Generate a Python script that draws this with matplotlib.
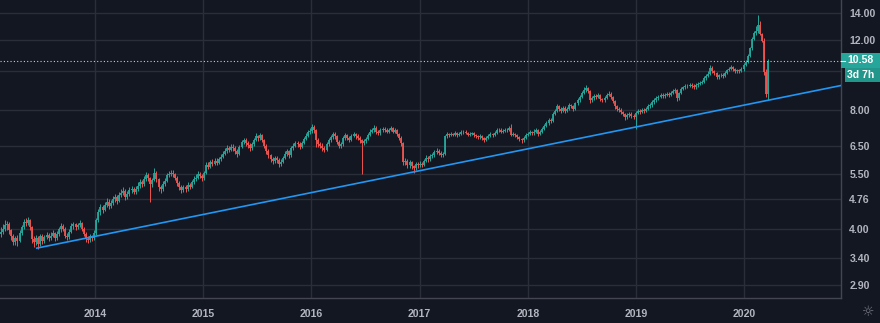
import matplotlib
matplotlib.use('Agg')
import matplotlib.pyplot as plt
import matplotlib.dates as mdates
from matplotlib.patches import Rectangle
from matplotlib.lines import Line2D
from matplotlib.transforms import IdentityTransform
import pandas as pd

# weekly candles, one list per calendar year
close_2013 = [3.95, 4.00, 4.10, 4.12, 3.98, 3.85, 3.72, 3.80, 3.75, 3.92, 4.05, 4.18,
              4.15, 4.22, 4.05, 3.78, 3.72, 3.80, 3.68, 3.85, 3.74, 3.82, 3.88, 3.80,
              3.86, 3.92, 3.80, 3.90, 4.00, 4.08, 4.02, 3.86, 3.82, 3.95, 4.08, 4.12,
              4.05, 4.10, 4.15, 4.02, 3.90, 3.78, 3.76, 3.84, 3.80, 3.92]
high_2013 = [4.05, 4.12, 4.22, 4.20, 4.18, 4.02, 3.90, 3.86, 3.88, 3.98, 4.10, 4.26,
             4.28, 4.30, 4.25, 4.08, 3.85, 3.88, 3.84, 3.90, 3.90, 3.88, 3.95, 3.92,
             3.93, 3.98, 3.95, 3.96, 4.06, 4.14, 4.12, 4.05, 3.92, 4.00, 4.14, 4.18,
             4.16, 4.16, 4.22, 4.18, 4.06, 3.94, 3.84, 3.90, 3.88, 3.98]
low_2013 = [3.82, 3.90, 3.96, 3.98, 3.90, 3.76, 3.66, 3.66, 3.64, 3.72, 3.88, 4.00,
            4.08, 4.10, 3.98, 3.70, 3.62, 3.66, 3.57, 3.64, 3.68, 3.70, 3.78, 3.74,
            3.76, 3.82, 3.74, 3.76, 3.86, 3.95, 3.96, 3.80, 3.76, 3.78, 3.92, 4.02,
            3.98, 4.00, 4.05, 3.96, 3.84, 3.72, 3.70, 3.72, 3.74, 3.77]

close_2014 = [4.22, 4.42, 4.55, 4.48, 4.62, 4.70, 4.58, 4.66, 4.76, 4.82, 4.72, 4.88,
              4.95, 5.00, 4.82, 4.92, 5.02, 5.05, 4.98, 5.05, 5.15, 5.25, 5.20, 5.35,
              5.48, 5.38, 5.20, 5.32, 5.55, 5.35, 5.10, 5.05, 5.20, 5.30, 5.48, 5.52,
              5.55, 5.50, 5.40, 5.22, 5.10, 5.02, 5.10, 5.05, 5.18, 5.12, 5.25, 5.35,
              5.40, 5.52, 5.45, 5.38]
high_2014 = [4.28, 4.50, 4.64, 4.62, 4.70, 4.80, 4.76, 4.74, 4.85, 4.92, 4.88, 4.96,
             5.06, 5.10, 5.05, 5.00, 5.10, 5.14, 5.12, 5.14, 5.25, 5.36, 5.34, 5.45,
             5.58, 5.55, 5.42, 5.40, 5.72, 5.60, 5.40, 5.18, 5.28, 5.40, 5.56, 5.62,
             5.65, 5.64, 5.56, 5.45, 5.28, 5.16, 5.18, 5.16, 5.26, 5.24, 5.32, 5.44,
             5.50, 5.60, 5.58, 5.52]
low_2014 = [3.88, 4.18, 4.36, 4.40, 4.44, 4.55, 4.50, 4.52, 4.60, 4.70, 4.64, 4.68,
            4.82, 4.88, 4.74, 4.76, 4.86, 4.95, 4.90, 4.92, 5.00, 5.08, 5.12, 5.14,
            5.30, 5.28, 4.70, 5.12, 5.28, 5.25, 5.00, 4.95, 5.00, 5.15, 5.26, 5.42,
            5.45, 5.42, 5.32, 5.14, 5.02, 4.94, 4.96, 4.98, 5.00, 5.05, 5.08, 5.20,
            5.30, 5.35, 5.38, 5.30]

close_2015 = [5.55, 5.80, 5.75, 5.90, 5.85, 5.95, 5.88, 6.02, 6.10, 6.20, 6.30, 6.42,
              6.35, 6.45, 6.40, 6.30, 6.20, 6.45, 6.62, 6.70, 6.60, 6.52, 6.40, 6.55,
              6.72, 6.85, 6.78, 6.90, 6.72, 6.50, 6.30, 6.15, 6.02, 5.95, 6.05, 5.98,
              5.85, 5.92, 6.05, 6.20, 6.28, 6.15, 6.40, 6.50, 6.58, 6.55, 6.45, 6.60,
              6.75, 6.88, 7.02, 7.08]
high_2015 = [5.62, 5.90, 5.92, 5.98, 6.00, 6.06, 6.04, 6.10, 6.20, 6.30, 6.40, 6.52,
             6.50, 6.56, 6.55, 6.48, 6.36, 6.52, 6.72, 6.80, 6.78, 6.66, 6.58, 6.62,
             6.80, 7.00, 6.92, 7.00, 6.95, 6.76, 6.55, 6.36, 6.20, 6.10, 6.12, 6.12,
             6.04, 6.00, 6.12, 6.28, 6.38, 6.34, 6.48, 6.60, 6.68, 6.68, 6.62, 6.68,
             6.84, 6.98, 7.12, 7.20]
low_2015 = [5.32, 5.50, 5.66, 5.70, 5.76, 5.80, 5.80, 5.84, 5.96, 6.04, 6.14, 6.24,
            6.26, 6.28, 6.30, 6.20, 6.10, 6.15, 6.40, 6.55, 6.50, 6.42, 6.30, 6.34,
            6.50, 6.66, 6.68, 6.72, 6.62, 6.40, 6.20, 6.05, 5.92, 5.85, 5.88, 5.88,
            5.75, 5.78, 5.88, 6.00, 6.12, 6.06, 6.10, 6.34, 6.44, 6.46, 6.36, 6.40,
            6.54, 6.70, 6.82, 6.95]

close_2016 = [7.25, 7.10, 6.70, 6.55, 6.50, 6.40, 6.35, 6.55, 6.70, 6.82, 6.95, 6.85,
              6.65, 6.50, 6.55, 6.78, 6.90, 6.80, 6.72, 6.88, 6.95, 6.85, 6.80, 6.70,
              6.60, 6.68, 6.75, 6.90, 7.05, 7.10, 7.20, 7.05, 6.98, 7.10, 7.15, 7.10,
              7.05, 7.12, 7.18, 7.05, 7.10, 6.95, 6.80, 6.60, 5.90, 5.95, 5.80, 5.90,
              5.78, 5.70, 5.85, 5.80]
high_2016 = [7.38, 7.32, 7.15, 6.78, 6.62, 6.58, 6.48, 6.62, 6.80, 6.92, 7.05, 7.02,
             6.90, 6.70, 6.64, 6.86, 7.00, 6.96, 6.86, 6.96, 7.05, 7.00, 6.94, 6.86,
             6.76, 6.76, 6.84, 6.98, 7.14, 7.20, 7.30, 7.26, 7.12, 7.18, 7.24, 7.22,
             7.18, 7.20, 7.28, 7.24, 7.18, 7.15, 7.00, 6.85, 6.65, 6.05, 6.00, 5.98,
             5.95, 5.82, 5.92, 5.92]
low_2016 = [7.00, 7.00, 6.45, 6.45, 6.40, 6.30, 6.25, 6.30, 6.50, 6.64, 6.76, 6.76,
            6.55, 6.40, 6.42, 6.50, 6.72, 6.70, 6.62, 6.66, 6.82, 6.76, 6.72, 6.60,
            5.52, 6.52, 6.60, 6.70, 6.85, 6.98, 7.04, 6.96, 6.90, 6.92, 7.04, 7.02,
            6.98, 7.00, 7.06, 6.98, 6.98, 6.88, 6.72, 6.50, 5.82, 5.80, 5.72, 5.72,
            5.68, 5.55, 5.64, 5.72]

close_2017 = [5.85, 5.82, 5.95, 6.05, 6.00, 6.12, 6.15, 6.25, 6.30, 6.22, 6.15, 6.18,
              6.85, 6.95, 6.90, 6.95, 6.92, 6.98, 6.90, 6.95, 7.02, 7.05, 7.00, 6.92,
              6.95, 6.98, 6.90, 6.85, 6.82, 6.88, 6.80, 6.72, 6.78, 6.88, 6.95, 6.90,
              7.00, 7.10, 7.12, 7.05, 7.08, 7.12, 7.10, 7.18, 6.92, 6.95, 6.90, 6.82,
              6.75, 6.70, 6.78, 6.92]
high_2017 = [5.95, 5.92, 6.02, 6.14, 6.12, 6.20, 6.24, 6.34, 6.40, 6.36, 6.28, 6.26,
             6.92, 7.02, 7.00, 7.02, 7.00, 7.06, 7.04, 7.02, 7.10, 7.12, 7.10, 7.04,
             7.02, 7.05, 7.02, 6.95, 6.92, 6.95, 6.92, 6.84, 6.86, 6.95, 7.02, 7.00,
             7.08, 7.18, 7.20, 7.18, 7.16, 7.20, 7.18, 7.26, 7.38, 7.04, 7.00, 6.94,
             6.88, 6.80, 6.86, 7.00]
low_2017 = [5.74, 5.74, 5.78, 5.90, 5.92, 5.95, 6.05, 6.10, 6.18, 6.14, 6.08, 6.08,
            6.14, 6.80, 6.84, 6.86, 6.86, 6.88, 6.84, 6.85, 6.90, 6.96, 6.94, 6.86,
            6.86, 6.90, 6.84, 6.78, 6.76, 6.76, 6.72, 6.64, 6.66, 6.74, 6.84, 6.84,
            6.86, 6.96, 7.04, 6.98, 7.00, 7.02, 7.04, 7.06, 6.86, 6.86, 6.82, 6.74,
            6.68, 6.60, 6.64, 6.74]

close_2018 = [6.95, 7.02, 6.98, 7.05, 7.10, 6.95, 7.05, 7.15, 7.28, 7.40, 7.55, 7.48,
              7.80, 7.95, 8.15, 8.05, 7.95, 8.10, 7.95, 8.05, 8.20, 8.15, 8.05, 8.30,
              8.45, 8.60, 8.80, 8.95, 9.05, 8.90, 8.45, 8.55, 8.65, 8.60, 8.70, 8.50,
              8.45, 8.55, 8.70, 8.78, 8.62, 8.40, 8.15, 8.05, 8.00, 7.90, 7.80, 7.65,
              7.75, 7.82, 7.72, 7.68]
high_2018 = [7.04, 7.10, 7.08, 7.14, 7.20, 7.16, 7.12, 7.24, 7.36, 7.50, 7.64, 7.62,
             7.90, 8.05, 8.25, 8.22, 8.12, 8.18, 8.16, 8.14, 8.30, 8.28, 8.22, 8.38,
             8.55, 8.70, 8.92, 9.10, 9.25, 9.12, 8.95, 8.64, 8.75, 8.74, 8.80, 8.76,
             8.58, 8.64, 8.80, 8.90, 8.84, 8.66, 8.45, 8.22, 8.12, 8.06, 7.96, 7.85,
             7.84, 7.90, 7.88, 7.80]
low_2018 = [6.86, 6.90, 6.90, 6.92, 7.00, 6.88, 6.90, 7.00, 7.10, 7.22, 7.34, 7.40,
            7.44, 7.74, 7.90, 7.96, 7.86, 7.90, 7.86, 7.88, 8.00, 8.06, 7.96, 8.00,
            8.24, 8.38, 8.55, 8.74, 8.88, 8.80, 8.30, 8.38, 8.48, 8.50, 8.54, 8.42,
            8.36, 8.38, 8.50, 8.64, 8.52, 8.30, 8.05, 7.95, 7.90, 7.80, 7.70, 7.52,
            7.58, 7.68, 7.62, 7.58]

close_2019 = [7.85, 7.95, 7.90, 8.00, 7.95, 8.05, 8.15, 8.20, 8.35, 8.45, 8.55, 8.62,
              8.70, 8.65, 8.72, 8.78, 8.70, 8.82, 8.90, 8.95, 8.55, 8.80, 9.00, 9.10,
              9.15, 9.20, 9.25, 9.18, 9.10, 9.22, 9.30, 9.35, 9.40, 9.60, 9.72, 9.85,
              10.20, 10.00, 9.90, 9.65, 9.75, 9.80, 9.70, 9.90, 10.05, 10.15, 10.25, 10.10,
              9.98, 10.05, 10.00, 10.10]
high_2019 = [7.94, 8.04, 8.02, 8.10, 8.06, 8.14, 8.25, 8.30, 8.45, 8.55, 8.65, 8.72,
             8.80, 8.80, 8.82, 8.88, 8.86, 8.92, 9.00, 9.05, 9.00, 8.88, 9.10, 9.20,
             9.26, 9.30, 9.36, 9.32, 9.26, 9.32, 9.40, 9.46, 9.52, 9.70, 9.84, 9.98,
             10.35, 10.28, 10.08, 9.95, 9.86, 9.90, 9.88, 10.00, 10.15, 10.26, 10.36, 10.32,
             10.16, 10.14, 10.12, 10.22]
low_2019 = [7.15, 7.78, 7.82, 7.84, 7.86, 7.88, 8.00, 8.08, 8.14, 8.28, 8.38, 8.48,
            8.55, 8.56, 8.58, 8.64, 8.60, 8.64, 8.76, 8.82, 8.40, 8.48, 8.74, 8.94,
            9.02, 9.06, 9.12, 9.08, 9.00, 9.04, 9.14, 9.22, 9.28, 9.34, 9.52, 9.65,
            9.80, 9.90, 9.80, 9.55, 9.58, 9.66, 9.60, 9.64, 9.84, 9.98, 10.08, 10.00,
            9.88, 9.90, 9.90, 9.94]

close_2020 = [10.35, 10.55, 10.90, 11.40, 12.05, 12.45, 12.60, 13.05, 12.40, 11.90,
              9.95, 8.75, 10.58]
high_2020 = [10.45, 10.68, 11.02, 11.52, 12.18, 12.60, 13.00, 13.85, 13.35, 12.50,
             12.10, 10.10, 10.75]
low_2020 = [10.02, 10.28, 10.48, 10.84, 11.32, 11.98, 12.30, 12.50, 12.30, 11.80,
            9.80, 8.60, 8.45]

first_open = 3.90
first_week = '2013-02-18'

trend_dates = ['2013-06-19', '2020-11-23']
trend_prices = [3.59, 9.20]

last_price = 10.58
countdown = '3d 7h'
y_ticks = [2.90, 3.40, 4.00, 4.76, 5.50, 6.50, 8.00, 10.00, 12.00, 14.00]
x_years = [2014, 2015, 2016, 2017, 2018, 2019, 2020]

bg = '#131722'
grid_c = '#2a2e39'
text_c = '#b2b5be'
up_c = '#26a69a'
down_c = '#ef5350'

closes = (close_2013 + close_2014 + close_2015 + close_2016 + close_2017
          + close_2018 + close_2019 + close_2020)
highs = (high_2013 + high_2014 + high_2015 + high_2016 + high_2017
         + high_2018 + high_2019 + high_2020)
lows = (low_2013 + low_2014 + low_2015 + low_2016 + low_2017
        + low_2018 + low_2019 + low_2020)
opens = [first_open] + closes[:-1]
dates = pd.date_range(first_week, periods=len(closes), freq='7D')

body_lo = [min(o, c) for o, c in zip(opens, closes)]
body_hi = [max(o, c) for o, c in zip(opens, closes)]
colors = [up_c if c >= o else down_c for o, c in zip(opens, closes)]

fig = plt.figure(figsize=(8.8, 3.23), dpi=100, facecolor=bg)
ax = fig.add_axes([0, 25 / 323, 841 / 880, 298 / 323], facecolor=bg)
ax.set_yscale('log')

ax.vlines(dates, lows, highs, colors=colors, linewidth=0.7, zorder=3)
ax.vlines(dates, body_lo, body_hi, colors=colors, linewidth=1.3, zorder=3)

ax.plot(pd.to_datetime(trend_dates), trend_prices, color='#2196f3', linewidth=1.2, zorder=4)
ax.axhline(last_price, color='#a8dcd6', linewidth=0.8, linestyle=(0, (1, 2)), zorder=4)

ax.set_xlim(pd.Timestamp('2013-02-15'), pd.Timestamp('2020-11-23'))
ax.set_ylim(2.69, 15.09)

ax.yaxis.tick_right()
ax.yaxis.set_major_locator(plt.FixedLocator(y_ticks))
# 10.00 sits under the price label on the original, so it is left blank
ax.yaxis.set_major_formatter(plt.FuncFormatter(lambda v, p: '' if v == 10 else f'{v:.2f}'))
ax.yaxis.set_minor_locator(plt.NullLocator())
ax.set_xticks([pd.Timestamp(f'{y}-01-01') for y in x_years])
ax.xaxis.set_major_formatter(mdates.DateFormatter('%Y'))
ax.tick_params(axis='both', length=0, colors=text_c, labelsize=7.6)
ax.tick_params(axis='y', pad=6)
ax.tick_params(axis='x', pad=8)
for lab in ax.get_xticklabels() + ax.get_yticklabels():
    lab.set_fontfamily('Liberation Sans')
    lab.set_fontweight('bold')

ax.grid(True, color=grid_c, linewidth=1, zorder=0)
for side in ['top', 'left']:
    ax.spines[side].set_visible(False)
for side in ['right', 'bottom']:
    ax.spines[side].set_color('#434651')
    ax.spines[side].set_linewidth(1)

# last price label and bar countdown on the price scale (pixel boxes)
y_px = ax.transData.transform((ax.get_xlim()[0], last_price))[1]
px = IdentityTransform()
fig.add_artist(Rectangle((841, y_px - 6.5), 39, 15, transform=px,
                         facecolor=up_c, edgecolor='none', zorder=10))
fig.add_artist(Rectangle((845, y_px - 20.5), 35, 14, transform=px,
                         facecolor='#22968b', edgecolor='none', zorder=10))
fig.add_artist(Line2D([841, 845], [y_px, y_px], transform=px, color='white',
                      linewidth=0.8, zorder=11))
fig.text(861, y_px + 1, f'{last_price:.2f}', transform=px, ha='center', va='center',
         color='white', fontsize=7.6, family='Liberation Sans', fontweight='bold', zorder=12)
fig.text(861, y_px - 13.5, countdown, transform=px, ha='center', va='center',
         color='white', fontsize=7.6, family='Liberation Sans', fontweight='bold', zorder=12)
fig.text(868 / 880, 1 - 312 / 323, '\u263c', color='#787b86', fontsize=10,
         ha='center', va='center')

fig.savefig('out.png', dpi=100, facecolor=bg)
plt.close(fig)
